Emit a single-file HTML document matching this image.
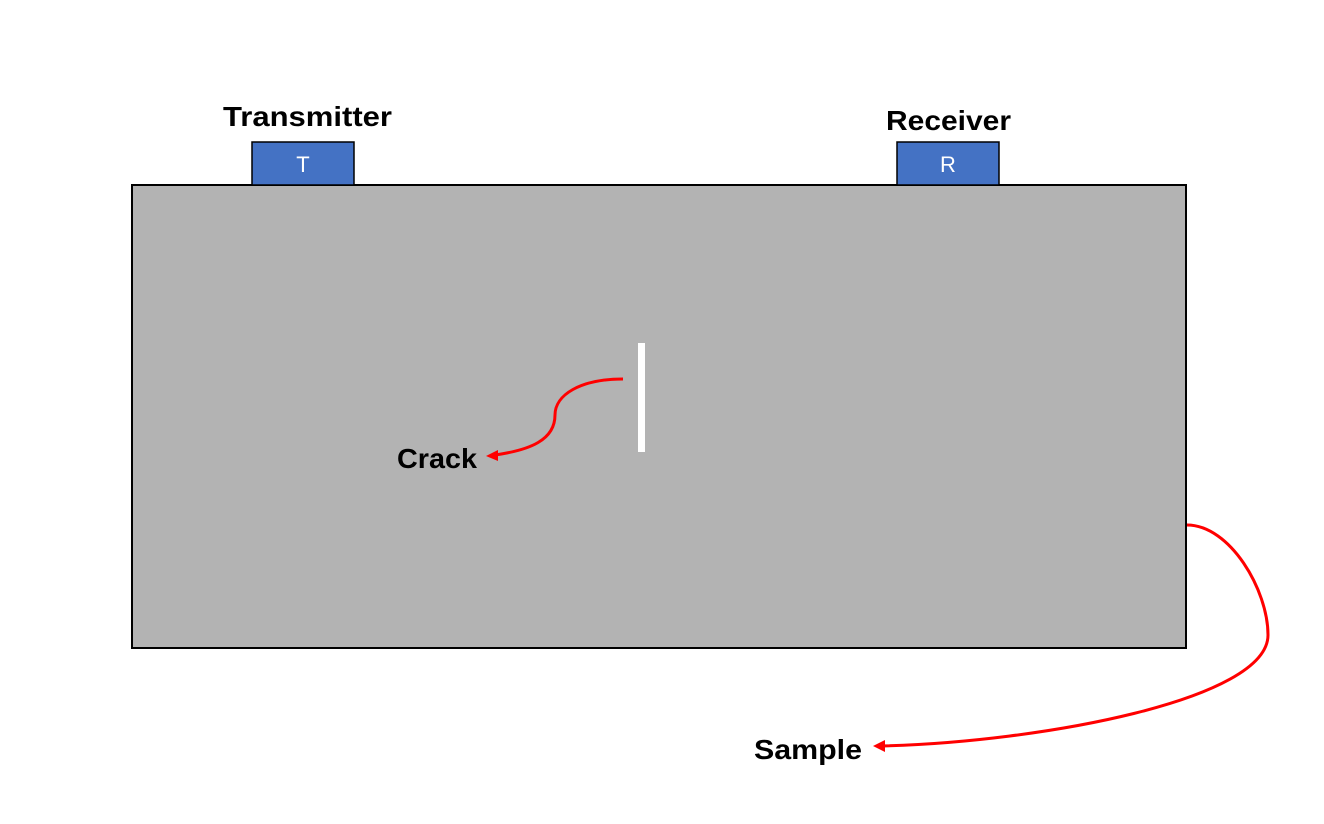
<!DOCTYPE html>
<html><head><style>
html,body{margin:0;padding:0;background:#fff;}
svg{display:block;}
text{font-family:"Liberation Sans",sans-serif;}
</style></head><body>
<svg width="1324" height="824" viewBox="0 0 1324 824" xmlns="http://www.w3.org/2000/svg">
<rect x="132" y="185" width="1054" height="463" fill="#b3b3b3" stroke="#000" stroke-width="2"/>
<rect x="252" y="142" width="102" height="43" fill="#4472c4" stroke="#000" stroke-width="1.5"/>
<rect x="897" y="142" width="102" height="43" fill="#4472c4" stroke="#000" stroke-width="1.5"/>
<text x="303" y="172" fill="#fff" font-size="22" text-anchor="middle">T</text>
<text x="948" y="172" fill="#fff" font-size="22" text-anchor="middle">R</text>
<text x="223" y="126" font-size="28" font-weight="bold" textLength="169" lengthAdjust="spacingAndGlyphs">Transmitter</text>
<text x="886" y="130" font-size="28" font-weight="bold" textLength="125" lengthAdjust="spacingAndGlyphs">Receiver</text>
<rect x="638" y="343" width="7" height="109" fill="#fff"/>
<path d="M623 379 C580 379 555 395 555 415 C555 440 530 450 495 455" fill="none" stroke="#f00" stroke-width="3"/>
<polygon points="486,456 498,450 498,461" fill="#f00"/>
<text x="397" y="468" font-size="28" font-weight="bold" textLength="80" lengthAdjust="spacingAndGlyphs">Crack</text>
<path d="M1187 525 C1230 525 1268 590 1268 635 C1268 700 1040 742 882 746" fill="none" stroke="#f00" stroke-width="3"/>
<polygon points="873,746 885,740 885,752" fill="#f00"/>
<text x="754" y="759" font-size="28" font-weight="bold" textLength="108" lengthAdjust="spacingAndGlyphs">Sample</text>
</svg>
</body></html>
